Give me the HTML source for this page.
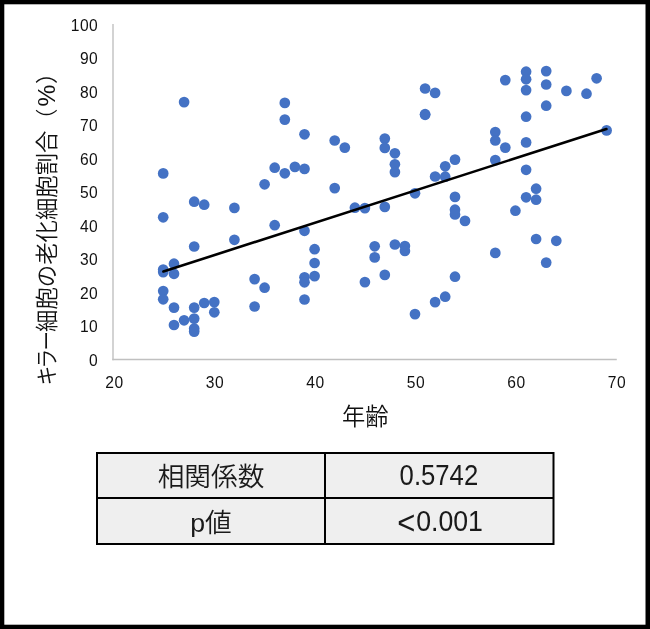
<!DOCTYPE html>
<html lang="ja">
<head>
<meta charset="utf-8">
<title>キラー細胞の老化細胞割合と年齢</title>
<style>
html,body{margin:0;padding:0;background:#fff;}
body{width:650px;height:629px;overflow:hidden;position:relative;font-family:"Liberation Sans","Noto Sans CJK JP",sans-serif;}
svg{position:absolute;left:0;top:0;display:block;}
.tick text{font-family:"Liberation Sans","Noto Sans CJK JP",sans-serif;font-size:15.6px;letter-spacing:0.5px;fill:#111;}
.jp{font-family:"Liberation Sans","Noto Sans CJK JP",sans-serif;fill:#111;font-weight:350;}
.cell{font-family:"Liberation Sans","Noto Sans CJK JP",sans-serif;fill:#1a1a1a;font-size:26.7px;font-weight:350;}
</style>
</head>
<body>
<svg width="650" height="629" viewBox="0 0 650 629">
<rect x="0" y="0" width="650" height="629" fill="#000"/>
<rect x="4.3" y="4.3" width="641.2" height="620.4" fill="#fff"/>
<g stroke="#c0c0c0" stroke-width="1.4" fill="none">
<line x1="113" y1="24" x2="113" y2="360.2"/>
<line x1="112.3" y1="359.5" x2="616.8" y2="359.5"/>
</g>
<g fill="#4472c4">
<circle cx="163.2" cy="173.4" r="5.35"/>
<circle cx="163.2" cy="217.3" r="5.35"/>
<circle cx="163.2" cy="269.5" r="5.35"/>
<circle cx="163.2" cy="272.1" r="5.35"/>
<circle cx="163.2" cy="291.0" r="5.35"/>
<circle cx="163.2" cy="299.3" r="5.35"/>
<circle cx="174.0" cy="263.7" r="5.35"/>
<circle cx="174.0" cy="273.8" r="5.35"/>
<circle cx="174.0" cy="307.6" r="5.35"/>
<circle cx="174.0" cy="325.0" r="5.35"/>
<circle cx="184.1" cy="102.1" r="5.35"/>
<circle cx="184.1" cy="320.3" r="5.35"/>
<circle cx="194.2" cy="201.7" r="5.35"/>
<circle cx="194.2" cy="246.5" r="5.35"/>
<circle cx="194.2" cy="307.6" r="5.35"/>
<circle cx="194.2" cy="318.6" r="5.35"/>
<circle cx="194.2" cy="328.5" r="5.35"/>
<circle cx="194.2" cy="331.6" r="5.35"/>
<circle cx="204.2" cy="204.7" r="5.35"/>
<circle cx="204.2" cy="303.0" r="5.35"/>
<circle cx="214.3" cy="302.1" r="5.35"/>
<circle cx="214.3" cy="312.3" r="5.35"/>
<circle cx="234.4" cy="207.9" r="5.35"/>
<circle cx="234.4" cy="239.8" r="5.35"/>
<circle cx="254.6" cy="279.1" r="5.35"/>
<circle cx="254.6" cy="306.5" r="5.35"/>
<circle cx="264.6" cy="184.3" r="5.35"/>
<circle cx="264.6" cy="287.7" r="5.35"/>
<circle cx="274.7" cy="167.7" r="5.35"/>
<circle cx="274.7" cy="225.2" r="5.35"/>
<circle cx="284.8" cy="102.9" r="5.35"/>
<circle cx="284.8" cy="119.6" r="5.35"/>
<circle cx="284.8" cy="173.3" r="5.35"/>
<circle cx="294.9" cy="166.9" r="5.35"/>
<circle cx="304.5" cy="134.3" r="5.35"/>
<circle cx="304.5" cy="168.9" r="5.35"/>
<circle cx="304.5" cy="230.8" r="5.35"/>
<circle cx="304.5" cy="277.3" r="5.35"/>
<circle cx="304.5" cy="282.3" r="5.35"/>
<circle cx="304.5" cy="299.5" r="5.35"/>
<circle cx="314.6" cy="249.2" r="5.35"/>
<circle cx="314.6" cy="263.0" r="5.35"/>
<circle cx="314.6" cy="276.1" r="5.35"/>
<circle cx="334.7" cy="140.5" r="5.35"/>
<circle cx="334.7" cy="188.1" r="5.35"/>
<circle cx="344.8" cy="147.6" r="5.35"/>
<circle cx="354.9" cy="207.7" r="5.35"/>
<circle cx="364.9" cy="208.1" r="5.35"/>
<circle cx="364.9" cy="282.1" r="5.35"/>
<circle cx="374.7" cy="246.3" r="5.35"/>
<circle cx="374.7" cy="257.4" r="5.35"/>
<circle cx="384.8" cy="138.6" r="5.35"/>
<circle cx="384.8" cy="147.9" r="5.35"/>
<circle cx="384.8" cy="206.9" r="5.35"/>
<circle cx="384.8" cy="274.9" r="5.35"/>
<circle cx="394.9" cy="153.3" r="5.35"/>
<circle cx="394.9" cy="164.3" r="5.35"/>
<circle cx="394.9" cy="172.1" r="5.35"/>
<circle cx="394.9" cy="244.5" r="5.35"/>
<circle cx="404.9" cy="246.0" r="5.35"/>
<circle cx="404.9" cy="251.0" r="5.35"/>
<circle cx="415.0" cy="193.3" r="5.35"/>
<circle cx="415.0" cy="314.1" r="5.35"/>
<circle cx="425.1" cy="88.5" r="5.35"/>
<circle cx="425.1" cy="114.2" r="5.35"/>
<circle cx="425.1" cy="114.8" r="5.35"/>
<circle cx="435.1" cy="92.9" r="5.35"/>
<circle cx="435.1" cy="176.5" r="5.35"/>
<circle cx="435.1" cy="302.1" r="5.35"/>
<circle cx="445.2" cy="166.3" r="5.35"/>
<circle cx="445.2" cy="176.7" r="5.35"/>
<circle cx="445.2" cy="296.7" r="5.35"/>
<circle cx="455.0" cy="159.6" r="5.35"/>
<circle cx="455.0" cy="196.9" r="5.35"/>
<circle cx="455.0" cy="209.7" r="5.35"/>
<circle cx="455.0" cy="214.5" r="5.35"/>
<circle cx="455.0" cy="276.7" r="5.35"/>
<circle cx="465.0" cy="220.9" r="5.35"/>
<circle cx="495.3" cy="132.1" r="5.35"/>
<circle cx="495.3" cy="140.5" r="5.35"/>
<circle cx="495.3" cy="160.1" r="5.35"/>
<circle cx="495.3" cy="252.9" r="5.35"/>
<circle cx="505.3" cy="80.1" r="5.35"/>
<circle cx="505.3" cy="147.6" r="5.35"/>
<circle cx="515.4" cy="210.7" r="5.35"/>
<circle cx="526.1" cy="71.7" r="5.35"/>
<circle cx="526.1" cy="79.3" r="5.35"/>
<circle cx="526.1" cy="90.1" r="5.35"/>
<circle cx="526.1" cy="116.7" r="5.35"/>
<circle cx="526.1" cy="142.4" r="5.35"/>
<circle cx="526.1" cy="169.8" r="5.35"/>
<circle cx="526.1" cy="197.3" r="5.35"/>
<circle cx="536.1" cy="188.7" r="5.35"/>
<circle cx="536.1" cy="199.7" r="5.35"/>
<circle cx="536.1" cy="239.0" r="5.35"/>
<circle cx="546.2" cy="71.1" r="5.35"/>
<circle cx="546.2" cy="84.5" r="5.35"/>
<circle cx="546.2" cy="105.7" r="5.35"/>
<circle cx="546.2" cy="262.6" r="5.35"/>
<circle cx="556.3" cy="240.8" r="5.35"/>
<circle cx="566.4" cy="90.9" r="5.35"/>
<circle cx="586.5" cy="93.7" r="5.35"/>
<circle cx="596.6" cy="78.3" r="5.35"/>
<circle cx="606.6" cy="130.4" r="5.35"/>
</g>
<line x1="163.4" y1="271.5" x2="606.4" y2="129.0" stroke="#000" stroke-width="2.6" stroke-linecap="round"/>
<g class="tick">
<text x="98.3" y="366.0" text-anchor="end">0</text>
<text x="98.3" y="332.4" text-anchor="end">10</text>
<text x="98.3" y="298.9" text-anchor="end">20</text>
<text x="98.3" y="265.4" text-anchor="end">30</text>
<text x="98.3" y="231.8" text-anchor="end">40</text>
<text x="98.3" y="198.2" text-anchor="end">50</text>
<text x="98.3" y="164.7" text-anchor="end">60</text>
<text x="98.3" y="131.2" text-anchor="end">70</text>
<text x="98.3" y="97.6" text-anchor="end">80</text>
<text x="98.3" y="64.1" text-anchor="end">90</text>
<text x="98.3" y="30.5" text-anchor="end">100</text>
<text x="114.5" y="387.8" text-anchor="middle">20</text>
<text x="214.9" y="387.8" text-anchor="middle">30</text>
<text x="315.4" y="387.8" text-anchor="middle">40</text>
<text x="415.9" y="387.8" text-anchor="middle">50</text>
<text x="516.5" y="387.8" text-anchor="middle">60</text>
<text x="617.0" y="387.8" text-anchor="middle">70</text>
</g>
<g class="jp" transform="translate(54.5,384) rotate(-90)">
<text y="0" font-size="22.4" transform="scale(0.88,1)" x="-1.7 17.5 38">キラー</text>
<text x="52" y="0" font-size="22.4">細胞の老化細胞割合</text>
<text y="0" font-size="22.4"><tspan x="253">（</tspan><tspan x="277.5" font-size="24.5">%</tspan><tspan x="300">）</tspan></text>
</g>
<text class="jp" x="365.2" y="425.3" font-size="23.3" text-anchor="middle">年齢</text>
<g>
<rect x="96" y="452" width="458.5" height="93" fill="#000"/>
<rect x="98" y="454" width="226" height="43" fill="#efefef"/>
<rect x="326" y="454" width="226.5" height="43" fill="#efefef"/>
<rect x="98" y="499" width="226" height="44" fill="#efefef"/>
<rect x="326" y="499" width="226.5" height="44" fill="#efefef"/>
<text class="cell" x="211" y="485.5" text-anchor="middle">相関係数</text>
<text class="cell" x="211" y="532" text-anchor="middle">p値</text>
<text class="cell" transform="translate(438.9,485.1) scale(1,1.12)" font-size="25.7" style="font-size:25.7px" text-anchor="middle">0.5742</text>
<text class="cell" transform="translate(397.3,531.4) scale(1,1.08)"><tspan font-size="31" dy="2.2">&lt;</tspan><tspan dy="-2.2" dx="0.8">0.001</tspan></text>
</g>
</svg>
</body>
</html>
